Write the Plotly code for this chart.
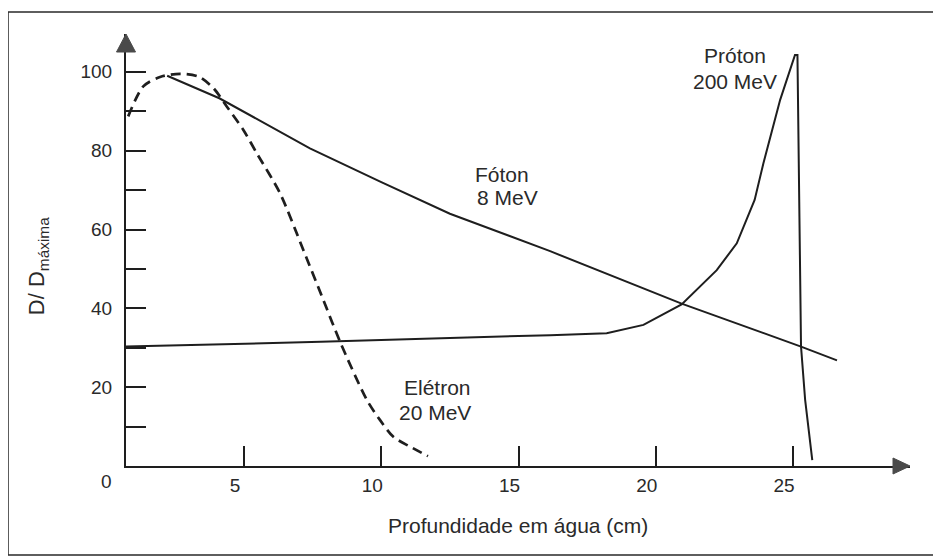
import plotly.graph_objects as go

# ---------------- data ----------------
photon_depth = [2.2, 4.1, 7.4, 10.0, 12.5, 16.15, 20.94, 25.29, 26.6]
photon_dose = [99.0, 93.3, 80.6, 72.0, 64.0, 54.5, 41.2, 30.3, 26.8]

electron_depth = [0.78, 1.33, 1.94, 2.67, 3.34, 3.88, 4.37, 4.97, 5.46, 6.31,
                  7.16, 7.89, 8.5, 9.47, 9.95, 10.44, 11.05, 11.7]
electron_dose = [88.7, 96.3, 98.7, 99.5, 98.8, 95.9, 91.2, 85.3, 79.4, 69.2,
                 54.8, 42.1, 31.5, 16.8, 11.7, 7.4, 4.9, 2.5]

proton_depth = [0.7, 7.8, 16.15, 18.21, 19.55, 20.94, 22.22, 22.95, 23.6, 23.92,
                24.53, 25.07, 25.16, 25.23, 25.29, 25.44, 25.7]
proton_dose = [30.3, 31.5, 33.2, 33.7, 35.8, 41.0, 49.7, 56.5, 67.5, 76.8,
               92.9, 104.3, 104.3, 67.5, 30.3, 16.8, 1.5]

x_ticks = [5, 10, 15, 20, 25]
x_tick_labels = ["5", "10", "15", "20", "25"]
x_origin_label = "0"
y_ticks = [20, 40, 60, 80, 100]
y_tick_labels = ["20", "40", "60", "80", "100"]
y_minor_ticks = [10, 30, 50, 70, 90]

x_title = "Profundidade em água (cm)"
y_title = "D/ D<sub>máxima</sub>"

# curve labels: (text, x, y, anchor)
curve_labels = [
    ("Fóton", 13.35, 74.0, "left"),
    ("8 MeV", 13.4, 68.2, "left"),
    ("Próton", 22.9, 104.2, "center"),
    ("200 MeV", 22.9, 97.6, "center"),
    ("Elétron", 12.05, 19.9, "center"),
    ("20 MeV", 11.95, 13.6, "center"),
]

X_RANGE = [0.7, 29.26]
Y_RANGE = [0, 109.6]

INK = "#1e1e1e"
TXT = "#2a2a2a"
FONT = "Arial, Liberation Sans, sans-serif"

fig = go.Figure()
fig.add_trace(go.Scatter(x=photon_depth, y=photon_dose, mode="lines",
                         line=dict(color=INK, width=2), showlegend=False,
                         hoverinfo="skip"))
fig.add_trace(go.Scatter(x=proton_depth, y=proton_dose, mode="lines",
                         line=dict(color=INK, width=2), showlegend=False,
                         hoverinfo="skip"))
fig.add_trace(go.Scatter(x=electron_depth, y=electron_dose, mode="lines",
                         line=dict(color=INK, width=2.7, dash="10px,6px",
                                   shape="spline", smoothing=0.8),
                         showlegend=False, hoverinfo="skip"))

for txt, x, y, anc in curve_labels:
    fig.add_annotation(x=x, y=y, xref="x", yref="y", text=txt, showarrow=False,
                       xanchor=anc, yanchor="middle",
                       font=dict(family=FONT, size=21, color=TXT))

# "0" label at the origin of the depth scale (origin lies left of the drawn axis)
origin_paper_x = (0 - X_RANGE[0]) / (X_RANGE[1] - X_RANGE[0])
fig.add_annotation(x=origin_paper_x, y=0, xref="paper", yref="paper",
                   text=x_origin_label, showarrow=False,
                   xanchor="center", yanchor="top", yshift=-3,
                   font=dict(family=FONT, size=19, color=TXT))

# axis titles
fig.add_annotation(x=0.5, y=-0.137, xref="paper", yref="paper", text=x_title,
                   showarrow=False, xanchor="center", yanchor="middle",
                   font=dict(family=FONT, size=21, color=TXT))
fig.add_annotation(x=-0.112, y=0.463, xref="paper", yref="paper", text=y_title,
                   showarrow=False, textangle=-90, xanchor="center",
                   yanchor="middle",
                   font=dict(family=FONT, size=22, color=TXT))

# arrow heads of the axes
fig.add_shape(type="path", xref="paper", yref="paper", xsizemode="pixel",
              ysizemode="pixel", xanchor=0, yanchor=1,
              path="M -9.5,-18 L 0,0 L 9.5,-18 Z",
              fillcolor="#4a4a4a", line=dict(color="#4a4a4a", width=1))
fig.add_shape(type="path", xref="paper", yref="paper", xsizemode="pixel",
              ysizemode="pixel", xanchor=1, yanchor=0,
              path="M -17,8 L 0,0 L -17,-8 Z",
              fillcolor="#4a4a4a", line=dict(color="#4a4a4a", width=1))

# outer frame of the figure
fig.add_shape(type="rect", xref="paper", yref="paper",
              x0=-0.1505, x1=1.0344, y0=-0.206, y1=1.0509,
              line=dict(color=TXT, width=1.5), fillcolor="rgba(0,0,0,0)",
              layer="below")

# page body has an 8px margin, so the figure is 8px smaller than the window
fig.update_layout(
    width=933, height=551,
    margin=dict(l=118, r=31, t=26, b=93),
    paper_bgcolor="white", plot_bgcolor="white",
    showlegend=False,
    font=dict(family=FONT, size=19, color=TXT),
    xaxis=dict(range=X_RANGE, showgrid=False, zeroline=False,
               showline=True, linecolor=INK, linewidth=2,
               tickmode="array", tickvals=x_ticks, ticktext=x_tick_labels,
               ticks="inside", ticklen=20, tickwidth=1.6, tickcolor=INK,
               ticklabelshift=-9, ticklabelstandoff=1,
               tickfont=dict(family=FONT, size=19, color=TXT)),
    yaxis=dict(range=Y_RANGE, showgrid=False, zeroline=False,
               showline=True, linecolor=INK, linewidth=2,
               tickmode="array", tickvals=y_ticks, ticktext=y_tick_labels,
               ticks="inside", ticklen=20, tickwidth=2, tickcolor=INK,
               minor=dict(tickmode="array", tickvals=y_minor_ticks,
                          ticks="inside", ticklen=20, tickwidth=2,
                          tickcolor=INK, showgrid=False),
               ticklabelstandoff=8,
               tickfont=dict(family=FONT, size=19, color=TXT)),
)

fig.write_html("out.html")
